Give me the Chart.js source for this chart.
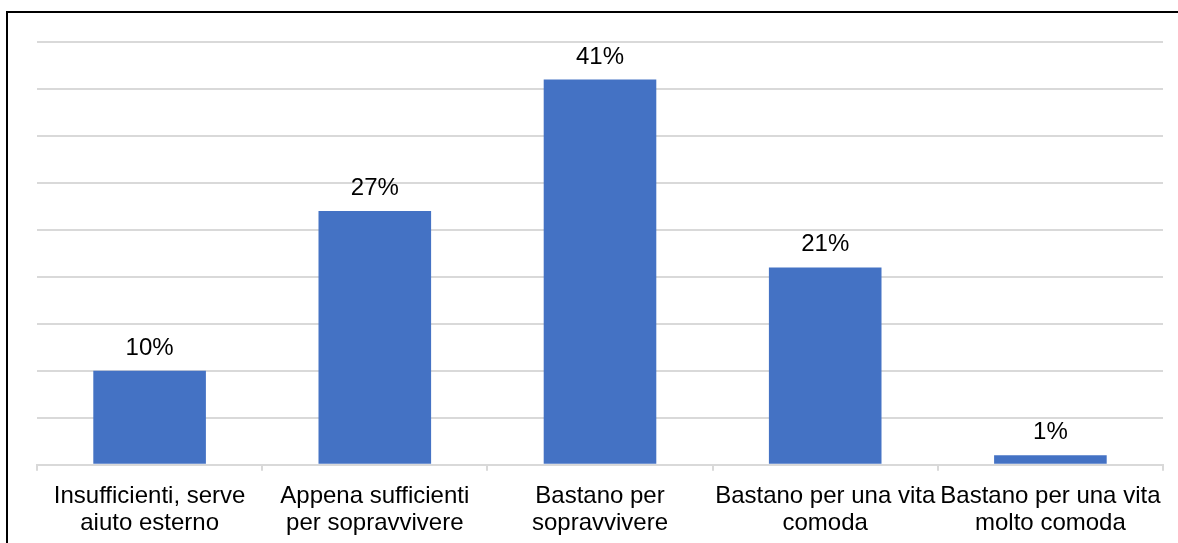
<!DOCTYPE html>
<html>
<head>
<meta charset="utf-8">
<script src="https://cdn.jsdelivr.net/npm/chart.js@4"></script>
<style>
  html, body { margin: 0; padding: 0; background: #fff; overflow: hidden; }
  #wrap { position: relative; width: 1178px; height: 543px; overflow: hidden; }
  #frame { position: absolute; left: 6px; top: 11px; width: 1300px; height: 700px; border: 2px solid #000; box-sizing: border-box; }
  canvas { position: absolute; left: 0; top: 0; }
</style>
</head>
<body>
<div id="wrap">
  <div id="frame"></div>
  <canvas id="c" width="1178" height="550"></canvas>
</div>
<script>
// Categories (each split into two lines) and their shares in percent
const categories = [
  ["Insufficienti, serve", "aiuto esterno"],
  ["Appena sufficienti", "per sopravvivere"],
  ["Bastano per", "sopravvivere"],
  ["Bastano per una vita", "comoda"],
  ["Bastano per una vita", "molto comoda"]
];
const shares = [10, 27, 41, 21, 1];
const axisMax = 45;
const axisStep = 5;

const FONT = "'Liberation Sans', Arial, sans-serif";

// Writes each bar's percentage above it
const valueLabels = {
  id: 'valueLabels',
  afterDatasetsDraw(chart) {
    const ctx = chart.ctx;
    const meta = chart.getDatasetMeta(0);
    ctx.save();
    ctx.font = "24px " + FONT;
    ctx.fillStyle = "#000";
    ctx.textAlign = "center";
    ctx.textBaseline = "alphabetic";
    meta.data.forEach((bar, i) => {
      ctx.fillText(shares[i] + "%", bar.x, bar.y - 16);
    });
    ctx.restore();
  }
};

new Chart(document.getElementById('c'), {
  type: 'bar',
  data: {
    labels: categories,
    datasets: [{
      data: shares,
      backgroundColor: '#4472C4',
      borderWidth: 0,
      categoryPercentage: 1,
      barPercentage: 0.5
    }]
  },
  options: {
    responsive: false,
    animation: false,
    devicePixelRatio: 1,
    layout: { padding: { left: 37, right: 15, top: 42, bottom: 1 } },
    plugins: {
      legend: { display: false },
      tooltip: { enabled: false },
      title: { display: false }
    },
    scales: {
      x: {
        grid: {
          display: true,
          drawOnChartArea: false,
          drawTicks: true,
          tickLength: 6,
          color: '#d9d9d9',
          lineWidth: 2,
          offset: true
        },
        border: { display: true, color: '#d9d9d9', width: 2 },
        ticks: {
          color: '#000',
          padding: 13,
          maxRotation: 0,
          autoSkip: false,
          font: { family: FONT, size: 24, lineHeight: 1.09 }
        }
      },
      y: {
        min: 0,
        max: axisMax,
        grid: { color: '#d9d9d9', lineWidth: 2, drawTicks: false },
        border: { display: false },
        ticks: { display: false, stepSize: axisStep }
      }
    }
  },
  plugins: [valueLabels]
});
</script>
</body>
</html>
